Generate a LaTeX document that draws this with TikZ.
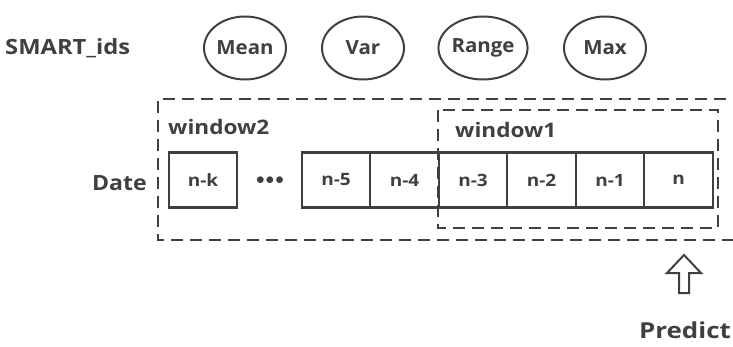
\documentclass[tikz,border=0pt]{standalone}
\usepackage{fontspec}
\usepackage{graphicx}
\setmainfont{Open Sans}
\usetikzlibrary{shapes.geometric}
\newcommand\stretchx[2]{\scalebox{#1}[1]{#2}}
\begin{document}
\begin{tikzpicture}[x=1pt,y=-1pt,
  ink/.style={draw=black!75},
  feat/.style={ink, line width=2pt, ellipse, minimum width=82pt, minimum height=63pt, inner sep=0pt, font=\bfseries\fontsize{19.5}{22}\selectfont, text=black!75},
  cell/.style={ink, line width=2.2pt, minimum width=68.5pt, minimum height=55pt, inner sep=0pt, font=\bfseries\fontsize{17}{20}\selectfont, text=black!75},
  win/.style={draw=black!75, line width=2.6pt, dash pattern=on 12pt off 7pt},
  lab/.style={font=\bfseries\fontsize{20}{24}\selectfont, text=black!75, inner sep=0pt}
]
\useasboundingbox (0,0) rectangle (733,347);
\clip (0,0) rectangle (733,347);
% features
\node[lab, anchor=west, font=\bfseries\fontsize{21}{24}\selectfont] (smart) at (5,48) {\stretchx{1.13}{SMART\_ids}};
\node[feat] (mean) at (245,48) {\stretchx{1.05}{Mean}};
\node[feat] (var) at (363,48) {\stretchx{1.05}{Var}};
\node[feat] (range) at (483,48) {\stretchx{1.05}{Range}};
\node[feat] (max) at (605,48) {\stretchx{1.05}{Max}};
% windows
\draw[win] (745,99) -- (158,99) -- (158,240) -- (745,240);
\draw[win] (438,110) rectangle (718,228);
\node[lab, anchor=west] (w2) at (168,127) {\stretchx{1.13}{window2}};
\node[lab, anchor=west] (w1) at (455,130) {\stretchx{1.13}{window1}};
% cells
\node[cell] (nk) at (203,180) {\stretchx{1.12}{n-k}};
\node[font=\bfseries\fontsize{17}{20}\selectfont, text=black!75] (dots) at (270,181) {$\bullet\!\bullet\!\bullet$};
\node[cell] (n5) at (336,180) {\stretchx{1.12}{n-5}};
\node[cell] (n4) at (404.5,180) {\stretchx{1.12}{n-4}};
\node[cell] (n3) at (473,180) {\stretchx{1.12}{n-3}};
\node[cell] (n2) at (541.5,180) {\stretchx{1.12}{n-2}};
\node[cell] (n1) at (610,180) {\stretchx{1.12}{n-1}};
\node[cell] (n0) at (678.5,180) {\stretchx{1.12}{n}};
\node[lab, anchor=east, font=\bfseries\fontsize{21}{24}\selectfont] (date) at (147,183) {\stretchx{1.1}{Date}};
% predict arrow
\coordinate (tip) at (684,255);
\draw[ink, line width=2pt, line join=miter]
  (tip) -- ++(17,18) -- ++(-12,0) -- ++(0,20) -- ++(-10,0) -- ++(0,-20) -- ++(-12,0) -- cycle;
\node[lab, font=\bfseries\fontsize{22}{26}\selectfont] (pred) at (685,330) {\stretchx{1.18}{Predict}};
\end{tikzpicture}
\end{document}
